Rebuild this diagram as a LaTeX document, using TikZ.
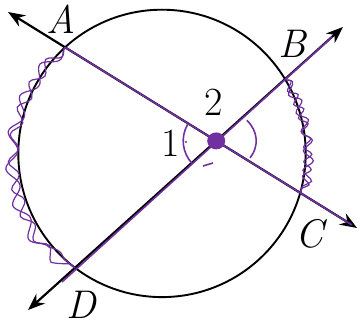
\documentclass[tikz,border=0pt]{standalone}
\usepackage{fontspec}
\usetikzlibrary{arrows.meta,decorations.pathmorphing}
\definecolor{pen}{RGB}{112,48,160}
\tikzset{
  axisline/.style={line width=2.2pt, {Stealth[length=17pt,width=13pt]}-{Stealth[length=17pt,width=13pt]}},
  penline/.style={pen, line width=1.6pt},
  wiggle/.style 2 args={pen, line width=1.2pt, decorate,
    decoration={snake, amplitude=#1, segment length=#2}},
  lbl/.style={font=\fontsize{40}{48}\selectfont, inner sep=0pt},
}
\begin{document}
\begin{tikzpicture}[x=1pt,y=1pt]
    \def\r{143.7}
    \useasboundingbox (0,0) rectangle (363,327);
    % ---- points ----
    \coordinate (K) at (162,173.6);
    \coordinate (A) at (65.1,279.7);
    \coordinate (B) at (285.1,248.0);
    \coordinate (C) at (300.3,134.1);
    \coordinate (D) at (75.1,59.3);
    \coordinate (O) at (216.2,186.1);
    \coordinate (acStart) at (8,315);
    \coordinate (acEnd) at (357,99);
    \coordinate (bdStart) at (28,17);
    \coordinate (bdEnd) at (343,300);
    \coordinate (acPen) at (352,102);
    \coordinate (bdPen0) at (62,45);
    \coordinate (bdPen1) at (332,290);
    % ---- circle and lines ----
    \draw[line width=1.9pt] (K) circle (\r pt);
    \draw[axisline] (acStart) -- (acEnd);
    \draw[axisline] (bdStart) -- (bdEnd);
    % ---- pen marks ----
    \draw[penline] (A) -- (acPen);
    \draw[penline] (bdPen0) -- (bdPen1);
    \draw[wiggle={6pt}{36pt}] (A) arc[start angle=132.4, end angle=232.8, radius=\r pt];
    \draw[wiggle={5pt}{27pt}] (A) arc[start angle=132.4, end angle=232.8, radius=\r pt];
    \draw[wiggle={5pt}{20pt}] (B) arc[start angle=31.2, end angle=-16.0, radius=\r pt];
    \draw[wiggle={4pt}{15pt}] (B) arc[start angle=31.2, end angle=-16.0, radius=\r pt];
    \draw[penline] (O) ++(150:33pt) arc[start angle=150, end angle=224, radius=33pt];
    \draw[penline] (O) ++(40:40pt and 32pt) arc[start angle=40, end angle=-32, x radius=40pt, y radius=32pt];
    \draw[penline] (203,161) -- (213,164);
    \fill[pen] (186,185) circle (1.2pt);
    \fill[pen] (O) ellipse (9pt and 8.5pt);
    % ---- labels ----
    \node[lbl] (lblA) at (61,308) {\itshape A};
    \node[lbl] (lblB) at (292,283) {\itshape B};
    \node[lbl] (lblC) at (309,93) {\itshape C};
    \node[lbl] (lblD) at (81,22) {\itshape D};
    \node[lbl] (lbl1) at (171,184) {1};
    \node[lbl] (lbl2) at (214,225) {2};
\end{tikzpicture}
\end{document}
